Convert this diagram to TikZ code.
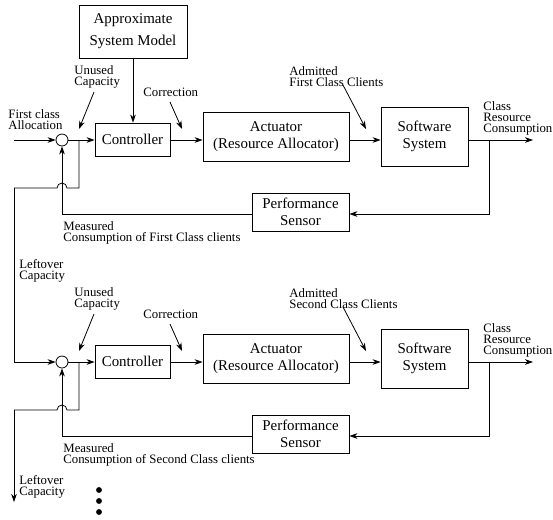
\documentclass[tikz,border=0pt]{standalone}
\usepackage{fontspec}
\setmainfont{Liberation Serif}
\usetikzlibrary{arrows.meta}
\begin{document}
\begin{tikzpicture}[x=0.75pt,y=0.75pt,
  line width=0.6pt,
  >={Stealth[length=6pt,width=4.2pt,inset=1.8pt]},
  blockbox/.style={draw, inner sep=0pt, align=center, font=\fontsize{11.2}{12.75}\selectfont},
  lbl/.style={inner sep=0pt, anchor=west, align=left, font=\fontsize{9.6}{8.3}\selectfont},
  sumnode/.style={draw, circle, minimum size=9pt, inner sep=0pt},
  dotmark/.style={fill=black}]
\useasboundingbox (0,0) rectangle (553,-519);

% system model feeding the first controller
\node[blockbox, minimum width=81pt, minimum height=39.75pt,
      font=\fontsize{11.2}{16.5}\selectfont] (model) at (133,-31.5) {Approximate\\System Model};

% the two control loops, one per client class
\foreach \s/\dy/\cls in {1/0/First,2/-166.5/Second}{
  \begin{scope}[yshift=\dy pt]
    \node[sumnode] (sum\s) at (62,-140) {};
    \node[blockbox, minimum width=56.25pt, minimum height=24.75pt] (ctrl\s) at (132.5,-139.5) {Controller};
    \node[blockbox, minimum width=109.5pt, minimum height=36.75pt] (act\s) at (276,-136.5) {Actuator\\(Resource Allocator)};
    \node[blockbox, minimum width=65.25pt, minimum height=44.25pt] (sw\s) at (424.5,-136.5) {Software\\System};
    \node[blockbox, minimum width=72.75pt, minimum height=28.5pt] (perf\s) at (300.5,-212) {Performance\\Sensor};

    % labels
    \node[lbl] (unused\s) at (74,-76.5) {Unused\\Capacity};
    \node[lbl] (corr\s) at (143,-92) {Correction};
    \node[lbl] (adm\s) at (289,-76.5) {Admitted\\\cls{} Class Clients};
    \node[lbl] (crc\s) at (483,-118.5) {Class\\Resource\\Consumption};
    \node[lbl] (meas\s) at (63,-232.5) {Measured\\Consumption of \cls{} Class clients};

    % helper points
    \coordinate (out\s) at (533,-140);
    \coordinate (tap\s) at (489,-140);
    \coordinate (fb\s) at (489,-214);
    \coordinate (fbl\s) at (62,-214);
    \coordinate (br\s) at (79,-140);
    \coordinate (brd\s) at (79,-188);
    \coordinate (hop\s) at (67,-188);
    \coordinate (lft\s) at (14,-188);
    \coordinate (ua\s) at (94,-92);
    \coordinate (ub\s) at (79,-129);
    \coordinate (ca\s) at (170,-102);
    \coordinate (cb\s) at (182,-129);
    \coordinate (aa\s) at (343,-85);
    \coordinate (ab\s) at (366,-129);

    % forward path
    \draw[->] (sum\s.east) -- (ctrl\s.west |- sum\s);
    \draw[->] (ctrl\s.east |- sum\s) -- (act\s.west |- sum\s);
    \draw[->] (act\s.east |- sum\s) -- (sw\s.west |- sum\s);
    \draw[->] (sw\s.east |- sum\s) -- (out\s);

    % feedback path
    \draw[->] (tap\s) -- (fb\s) -- (perf\s.east |- fb\s);
    \draw[->] (perf\s.west |- fb\s) -- (fbl\s) -- (sum\s.south);

    % leftover capacity branch, hopping over the feedback line
    \draw (br\s) -- (brd\s) -- (hop\s) arc[start angle=0, end angle=180, radius=3.75pt] -- (lft\s);

    % annotation pointers
    \draw[->] (ua\s) -- (ub\s);
    \draw[->] (ca\s) -- (cb\s);
    \draw[->] (aa\s) -- (ab\s);
  \end{scope}
}

% inputs and outputs of the cascade
\coordinate (in1) at (14,-140);
\coordinate (end) at (14,-502);
\draw[->] (in1) -- (sum1.west);
\draw[->] (lft1) -- (lft1 |- sum2) -- (sum2.west);
\draw[->] (lft2) -- (end);
\draw[->] (model.south) -- (model.south |- ctrl1.north);

\node[lbl] (alloc) at (8,-119.5) {First class\\Allocation};
\node[lbl] (left1) at (19,-271) {Leftover\\Capacity};
\node[lbl] (left2) at (19,-486.5) {Leftover\\Capacity};

% continuation dots
\fill[dotmark] (99,-490) circle[radius=2.2pt];
\fill[dotmark] (99,-501) circle[radius=2.2pt];
\fill[dotmark] (99,-512) circle[radius=2.2pt];
\end{tikzpicture}
\end{document}
